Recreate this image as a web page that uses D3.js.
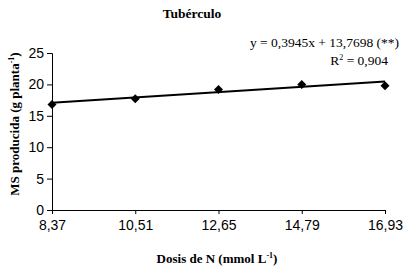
<!DOCTYPE html>
<html>
<head>
<meta charset="utf-8">
<script src="https://cdn.jsdelivr.net/npm/d3@7"></script>
<style>
  body { margin: 0; background: #fff; }
  svg { display: block; }
</style>
</head>
<body>
<div id="chart"></div>
<script>
// data
const doses = [8.37, 10.51, 12.65, 14.79, 16.93];
const doseLabels = ["8,37", "10,51", "12,65", "14,79", "16,93"];
const msValues = [16.8, 17.7, 19.2, 20.0, 19.8];
const yTicks = [0, 5, 10, 15, 20, 25];
const slope = 0.3945, intercept = 13.7698;

const W = 415, H = 274;
const margin = {top: 53, right: 30, bottom: 64, left: 52};
const width = 385 - margin.left,
      height = 210 - margin.top;

const svg = d3.select("#chart").append("svg")
    .attr("width", W).attr("height", H);
const g = svg.append("g")
    .attr("transform", `translate(${margin.left},${margin.top})`);

const x = d3.scaleLinear().domain([8.37, 16.93]).range([0, width]);
const xp = d3.scalePoint().domain(doseLabels).range([0, width]);
const y = d3.scaleLinear().domain([0, 25]).range([height, 0]);

// X axis
const xa = g.append("g")
    .attr("transform", `translate(0,${height})`)
    .call(d3.axisBottom(xp).tickSize(4).tickPadding(6));
xa.selectAll("text")
    .style("font-family", "'Liberation Sans', Arial, sans-serif")
    .style("font-size", "14px").attr("fill", "#000");
xa.selectAll("line,path").attr("stroke", "#000");

// Y axis
const ya = g.append("g")
    .call(d3.axisLeft(y).tickValues(yTicks).tickSize(5).tickPadding(3));
ya.selectAll("text")
    .style("font-family", "'Liberation Sans', Arial, sans-serif")
    .style("font-size", "14px").attr("fill", "#000");
ya.selectAll("line,path").attr("stroke", "#000");

// trend line
g.append("line")
    .attr("x1", x(doses[0])).attr("y1", y(slope * doses[0] + intercept))
    .attr("x2", x(doses[4])).attr("y2", y(slope * doses[4] + intercept))
    .attr("stroke", "#000").attr("stroke-width", 2);

// points (square diamonds like Excel markers)
const dia = "M0,-4.5L4.5,0L0,4.5L-4.5,0Z";
g.selectAll("path.pt")
  .data(msValues)
  .join("path")
    .attr("class", "pt")
    .attr("d", dia)
    .attr("transform", (d, i) => `translate(${xp(doseLabels[i])},${y(d)})`)
    .attr("fill", "#000");

const serif = "'Liberation Serif', 'Times New Roman', serif";

// title
svg.append("text")
    .attr("x", 192).attr("y", 18)
    .attr("text-anchor", "middle")
    .style("font-family", serif).style("font-weight", "bold").style("font-size", "13.5px")
    .text("Tubérculo");

// equation
svg.append("text")
    .attr("x", 399).attr("y", 47)
    .attr("text-anchor", "end")
    .style("font-family", serif).style("font-size", "13.5px")
    .text("y = 0,3945x + 13,7698 (**)");
const r2 = svg.append("text")
    .attr("x", 388).attr("y", 65)
    .attr("text-anchor", "end")
    .style("font-family", serif).style("font-size", "13.5px");
r2.append("tspan").text("R");
r2.append("tspan").attr("dy", -5).style("font-size", "8px").text("2");
r2.append("tspan").attr("dy", 5).text(" = 0,904");

// x label
const xl = svg.append("text")
    .attr("x", 217).attr("y", 263)
    .attr("text-anchor", "middle")
    .style("font-family", serif).style("font-weight", "bold").style("font-size", "13px");
xl.append("tspan").text("Dosis de N (mmol L");
xl.append("tspan").attr("dy", -5).style("font-size", "8px").text("-1");
xl.append("tspan").attr("dy", 5).text(")");

// y label
const yl = svg.append("text")
    .attr("transform", "translate(19,124) rotate(-90)")
    .attr("text-anchor", "middle")
    .style("font-family", serif).style("font-weight", "bold").style("font-size", "13px");
yl.append("tspan").text("MS producida (g planta");
yl.append("tspan").attr("dy", -5).style("font-size", "8px").text("-1");
yl.append("tspan").attr("dy", 5).text(")");
</script>
</body>
</html>
